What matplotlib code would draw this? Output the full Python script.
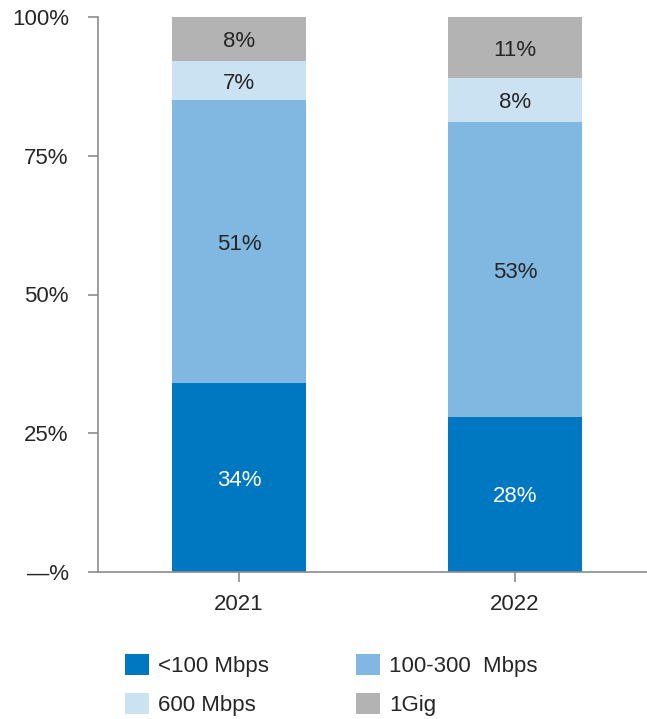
import matplotlib
matplotlib.use("Agg")
import matplotlib.pyplot as plt
import numpy as np

years = ["2021", "2022"]
series = ["<100 Mbps", "100-300  Mbps", "600 Mbps", "1Gig"]
values = {
    "<100 Mbps": [34, 28],
    "100-300  Mbps": [51, 53],
    "600 Mbps": [7, 8],
    "1Gig": [8, 11],
}
colors = ["#0078C1", "#80B8E1", "#CBE2F3", "#B3B3B3"]
label_colors = ["white", "#262626", "#262626", "#262626"]
yticks = [0, 25, 50, 75, 100]
ytick_labels = ["\u2014%", "25%", "50%", "75%", "100%"]

plt.rcParams["font.family"] = ["Liberation Sans", "DejaVu Sans"]
W, H = 647, 719
fig = plt.figure(figsize=(W / 100, H / 100), dpi=100)
ax = fig.add_axes([98 / W, 1 - 572 / H, (W - 98) / W, (572 - 17) / H])

x = np.arange(len(years))
bottom = np.zeros(len(years))
handles = []
for s, c, lc in zip(series, colors, label_colors):
    v = np.array(values[s], dtype=float)
    b = ax.bar(x, v, bottom=bottom, width=0.486, color=c, label=s, linewidth=0)
    handles.append(b)
    for xi, vi, bi in zip(x, v, bottom):
        ax.text(xi, bi + vi / 2, f"{int(vi)}%", ha="center", va="center_baseline",
                fontsize=16, color=lc)
    bottom += v

ax.set_xlim(-0.511, 1.478)
ax.set_ylim(0, 100)
ax.set_yticks(yticks)
ax.set_yticklabels(ytick_labels)
ax.set_xticks(x)
ax.set_xticklabels(years)
for sp in ["top", "right"]:
    ax.spines[sp].set_visible(False)
for sp in ["left", "bottom"]:
    ax.spines[sp].set_color("#8C8C8C")
    ax.spines[sp].set_linewidth(1.2)
ax.tick_params(axis="y", length=7, width=1.2, color="#8C8C8C", pad=14,
               labelsize=16, labelcolor="#262626")
ax.tick_params(axis="x", length=7, width=1.2, color="#8C8C8C", pad=9,
               labelsize=16, labelcolor="#262626")

order = [0, 2, 1, 3]
fig.legend(handles=[handles[i] for i in order], labels=[series[i] for i in order],
           ncol=2, loc="upper left",
           bbox_to_anchor=(116 / W, 1 - 645 / H), frameon=False,
           fontsize=16, handlelength=1.1, handleheight=1.1,
           handletextpad=0.4, columnspacing=3.9, labelspacing=0.7,
           labelcolor="#262626", borderaxespad=0)

fig.savefig("out.png", dpi=100)
